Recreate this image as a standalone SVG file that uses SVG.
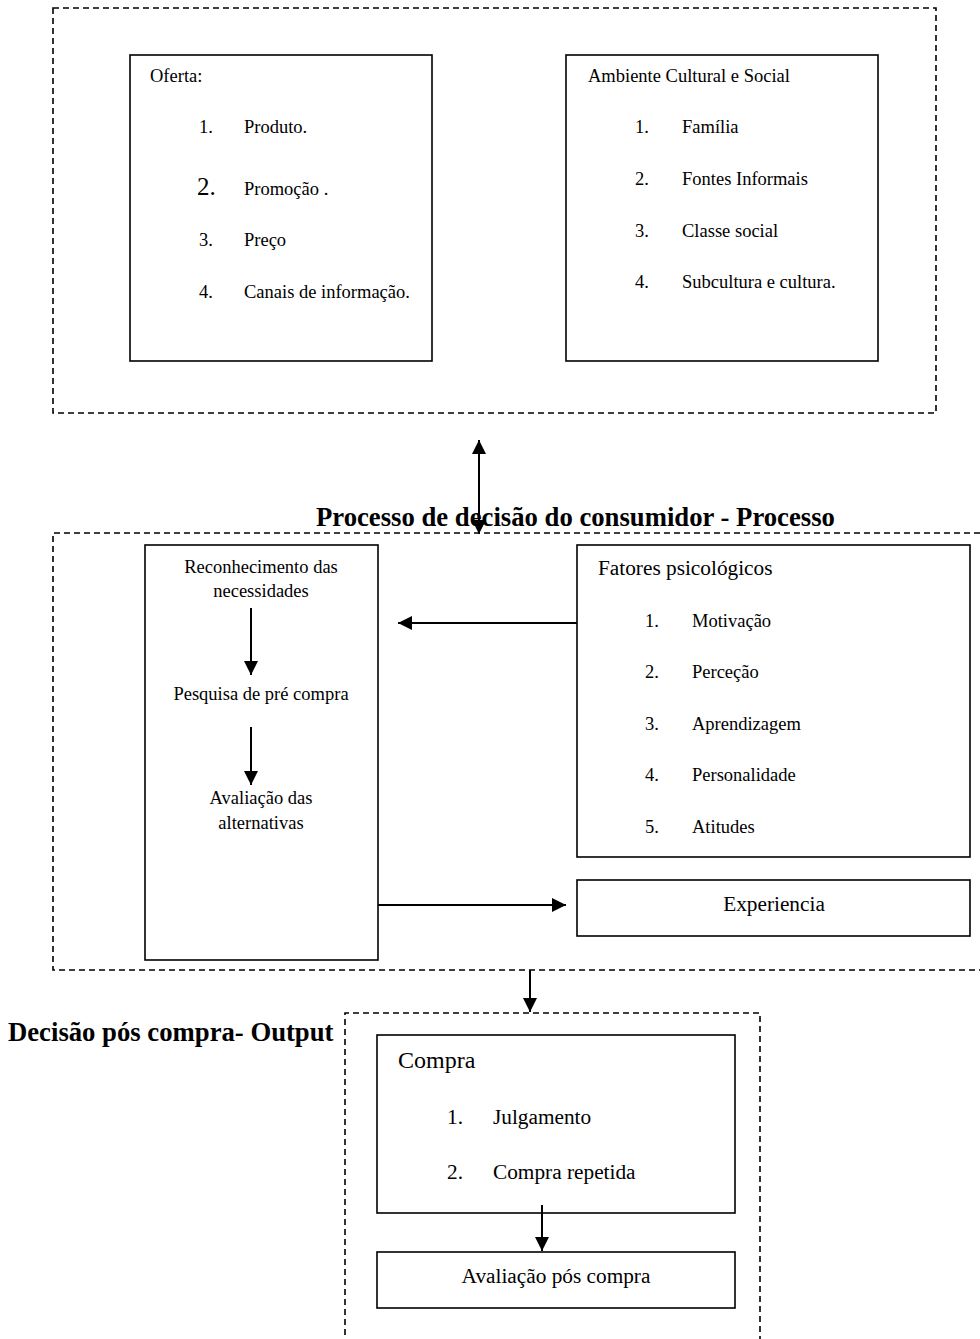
<svg xmlns="http://www.w3.org/2000/svg" width="980" height="1339" viewBox="0 0 980 1339">
<style>
text{font-family:"Liberation Serif","Times New Roman",serif;fill:#000}
.dash{fill:none;stroke:#000;stroke-width:1.6;stroke-dasharray:6 4}
.box{fill:#fff;stroke:#000;stroke-width:1.6}
.ln{stroke:#000;stroke-width:2;fill:none}
.t18{font-size:18.5px}
.t21{font-size:21.3px}
.t24{font-size:24px}
.b{font-weight:bold;font-size:26.7px}
.c{text-anchor:middle}
</style>
<defs>
<marker id="ah" viewBox="0 0 10 10" refX="10" refY="5" markerWidth="7" markerHeight="7" orient="auto-start-reverse" markerUnits="strokeWidth">
<path d="M0,0 L10,5 L0,10 z" fill="#000"/>
</marker>
</defs>
<rect width="980" height="1339" fill="#fff"/>

<g id="frame-input">
<rect class="dash" x="53" y="8" width="883" height="405"/>
</g>

<g id="oferta">
<rect class="box" x="130" y="55" width="302" height="306"/>
<text class="t18" x="150" y="82">Oferta:</text>
<text class="t18" x="199" y="133">1.</text><text class="t18" x="244" y="133">Produto.</text>
<text x="197" y="195" font-size="25">2.</text><text class="t18" x="244" y="195">Promoção .</text>
<text class="t18" x="199" y="246">3.</text><text class="t18" x="244" y="246">Preço</text>
<text class="t18" x="199" y="298">4.</text><text class="t18" x="244" y="298">Canais de informação.</text>
</g>

<g id="ambiente">
<rect class="box" x="566" y="55" width="312" height="306"/>
<text class="t18" x="588" y="82">Ambiente Cultural e Social</text>
<text class="t18" x="635" y="133">1.</text><text class="t18" x="682" y="133">Família</text>
<text class="t18" x="635" y="185">2.</text><text class="t18" x="682" y="185">Fontes Informais</text>
<text class="t18" x="635" y="237">3.</text><text class="t18" x="682" y="237">Classe social</text>
<text class="t18" x="635" y="288">4.</text><text class="t18" x="682" y="288">Subcultura e cultura.</text>
</g>

<g id="frame-processo">
<path class="dash" d="M990,533 H53 V970 H990"/>
<text class="b" x="316" y="526">Processo de decisão do consumidor - Processo</text>
</g>

<g id="reconhecimento">
<rect class="box" x="145" y="545" width="233" height="415"/>
<text class="t18 c" x="261" y="573">Reconhecimento das</text>
<text class="t18 c" x="261" y="597">necessidades</text>
<text class="t18 c" x="261" y="700">Pesquisa de pré compra</text>
<text class="t18 c" x="261" y="804">Avaliação das</text>
<text class="t18 c" x="261" y="829">alternativas</text>
</g>

<g id="fatores">
<rect class="box" x="577" y="545" width="393" height="312"/>
<text class="t21" x="598" y="575">Fatores psicológicos</text>
<text class="t18" x="645" y="627">1.</text><text class="t18" x="692" y="627">Motivação</text>
<text class="t18" x="645" y="678">2.</text><text class="t18" x="692" y="678">Perceção</text>
<text class="t18" x="645" y="730">3.</text><text class="t18" x="692" y="730">Aprendizagem</text>
<text class="t18" x="645" y="781">4.</text><text class="t18" x="692" y="781">Personalidade</text>
<text class="t18" x="645" y="833">5.</text><text class="t18" x="692" y="833">Atitudes</text>
</g>

<g id="experiencia">
<rect class="box" x="577" y="880" width="393" height="56"/>
<text class="t21 c" x="774" y="911">Experiencia</text>
</g>

<g id="frame-output">
<path class="dash" d="M345,1345 V1013 H760 V1345"/>
<text class="b" x="8" y="1041">Decisão pós compra- Output</text>
</g>

<g id="compra">
<rect class="box" x="377" y="1035" width="358" height="178"/>
<text class="t24" x="398" y="1068">Compra</text>
<text class="t21" x="447" y="1124">1.</text><text class="t21" x="493" y="1124">Julgamento</text>
<text class="t21" x="447" y="1179">2.</text><text class="t21" x="493" y="1179">Compra repetida</text>
</g>

<g id="avaliacao">
<rect class="box" x="377" y="1252" width="358" height="56"/>
<text class="t21 c" x="556" y="1283">Avaliação pós compra</text>
</g>

<g id="connectors">
<line class="ln" x1="479" y1="440" x2="479" y2="534" marker-start="url(#ah)" marker-end="url(#ah)"/>
<line class="ln" x1="251" y1="608" x2="251" y2="675" marker-end="url(#ah)"/>
<line class="ln" x1="251" y1="727" x2="251" y2="785" marker-end="url(#ah)"/>
<line class="ln" x1="577" y1="623" x2="398" y2="623" marker-end="url(#ah)"/>
<line class="ln" x1="378" y1="905" x2="566" y2="905" marker-end="url(#ah)"/>
<line class="ln" x1="530" y1="970" x2="530" y2="1012" marker-end="url(#ah)"/>
<line class="ln" x1="542" y1="1205" x2="542" y2="1251" marker-end="url(#ah)"/>
</g>
</svg>
